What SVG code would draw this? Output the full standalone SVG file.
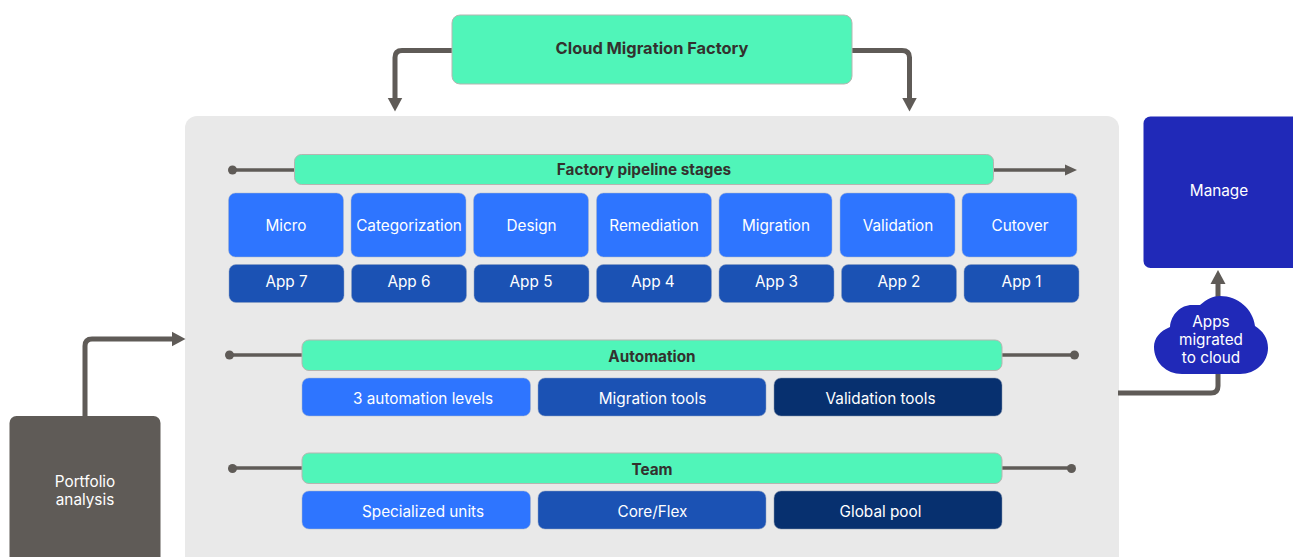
<svg xmlns="http://www.w3.org/2000/svg" width="1293" height="557" viewBox="0 0 1293 557">
<style>
text{font-family:"Inter","Liberation Sans",sans-serif;font-size:15.300px;text-anchor:middle;fill:#fff}
.h{fill:#33312e;font-weight:700}
.m{fill:#50f5b9;stroke:#b5b5b0;stroke-width:1}
.a{fill:#2e75ff;stroke:#a8b4c8;stroke-width:.5}
.b{fill:#1b52b4;stroke:#8fa0c0;stroke-width:.5}
.c{fill:#07306f;stroke:#8090a8;stroke-width:.5}
.l{fill:none;stroke:#5f5b57;stroke-width:5}
.t{fill:none;stroke:#5f5b57;stroke-width:3.500}
.d{fill:#5f5b57}
</style>
<defs>
<marker id="arrow" markerUnits="userSpaceOnUse" markerWidth="16" markerHeight="16" refX="2" refY="8" orient="auto"><path d="M0 0.500L14 8L0 15.500Z" fill="#5f5b57"/></marker>
</defs>
<rect id="canvas" x="185" y="116" width="934" height="460" rx="12" fill="#e9e9e9"/>
<g id="connectors">
<path class="l" d="M452 50.500H402Q395 50.500 395 57.500V99.500" marker-end="url(#arrow)"/>
<path class="l" d="M852 50.500H902Q909.500 50.500 909.500 57.500V99.500" marker-end="url(#arrow)"/>
<path class="l" d="M85 417V346Q85 339 92 339H173.500" marker-end="url(#arrow)"/>
<path class="l" d="M1118 393H1211Q1218 393 1218 386V372"/>
<path class="l" d="M1218 300V282" marker-end="url(#arrow)"/>
<path class="t" d="M233 170H295"/><circle class="d" cx="232.500" cy="170" r="4.500"/>
<path class="t" d="M994 170H1070"/><path class="d" d="M1065 164.500L1077 170L1065 175.500Z"/>
<path class="t" d="M230 355H302"/><circle class="d" cx="229.500" cy="355" r="4.500"/>
<path class="t" d="M1002 355H1074"/><circle class="d" cx="1074.500" cy="355" r="4.500"/>
<path class="t" d="M233 468H302"/><circle class="d" cx="232.500" cy="468.500" r="4.500"/>
<path class="t" d="M1002 468H1071"/><circle class="d" cx="1071.500" cy="468.500" r="4.500"/>
</g>
<g id="factory"><rect class="m" x="452" y="15" width="400" height="69" rx="8"/><text class="h" x="652" y="54" style="font-size:16.400px">Cloud Migration Factory</text></g>
<g id="pipeline"><rect class="m" x="294.500" y="154.500" width="699" height="30" rx="7"/><text class="h" x="644" y="175">Factory pipeline stages</text></g>
<g id="s1"><rect class="a" x="228.500" y="193" width="115" height="64" rx="7"/><text x="286" y="231">Micro</text></g>
<g id="s2"><rect class="a" x="351" y="193" width="115" height="64" rx="7"/><text x="409" y="231">Categorization</text></g>
<g id="s3"><rect class="a" x="473.500" y="193" width="115" height="64" rx="7"/><text x="531.500" y="231">Design</text></g>
<g id="s4"><rect class="a" x="596.500" y="193" width="115" height="64" rx="7"/><text x="654" y="231">Remediation</text></g>
<g id="s5"><rect class="a" x="719" y="193" width="113" height="64" rx="7"/><text x="776" y="231">Migration</text></g>
<g id="s6"><rect class="a" x="840" y="193" width="115" height="64" rx="7"/><text x="898" y="231">Validation</text></g>
<g id="s7"><rect class="a" x="962" y="193" width="115" height="64" rx="7"/><text x="1020" y="231">Cutover</text></g>
<g id="a7"><rect class="b" x="229" y="264.500" width="115" height="38" rx="7"/><text x="286.500" y="287">App 7</text></g>
<g id="a6"><rect class="b" x="351.500" y="264.500" width="115" height="38" rx="7"/><text x="409" y="287">App 6</text></g>
<g id="a5"><rect class="b" x="474" y="264.500" width="115" height="38" rx="7"/><text x="531" y="287">App 5</text></g>
<g id="a4"><rect class="b" x="596.500" y="264.500" width="115" height="38" rx="7"/><text x="653" y="287">App 4</text></g>
<g id="a3"><rect class="b" x="719" y="264.500" width="115" height="38" rx="7"/><text x="776.500" y="287">App 3</text></g>
<g id="a2"><rect class="b" x="841.500" y="264.500" width="115" height="38" rx="7"/><text x="899" y="287">App 2</text></g>
<g id="a1"><rect class="b" x="964" y="264.500" width="115" height="38" rx="7"/><text x="1021.500" y="287">App 1</text></g>
<g id="automation"><rect class="m" x="302" y="340" width="700" height="30.500" rx="7"/><text class="h" x="652" y="362">Automation</text></g>
<g id="levels"><rect class="a" x="302" y="378" width="228.500" height="38" rx="7"/><text x="423" y="404">3 automation levels</text></g>
<g id="migtools"><rect class="b" x="538" y="378" width="228" height="38" rx="7"/><text x="652.500" y="404">Migration tools</text></g>
<g id="valtools"><rect class="c" x="774" y="378" width="228" height="38" rx="7"/><text x="880.500" y="404">Validation tools</text></g>
<g id="team"><rect class="m" x="302" y="453" width="700" height="30.500" rx="7"/><text class="h" x="652" y="475">Team</text></g>
<g id="units"><rect class="a" x="302" y="491" width="228.500" height="38" rx="7"/><text x="423" y="517">Specialized units</text></g>
<g id="core"><rect class="b" x="538" y="491" width="228" height="38" rx="7"/><text x="652.500" y="517">Core/Flex</text></g>
<g id="pool"><rect class="c" x="774" y="491" width="228" height="38" rx="7"/><text x="880.500" y="517">Global pool</text></g>
<g id="portfolio"><rect x="9.500" y="416" width="151" height="170" rx="7" fill="#5f5b57"/><text x="85" y="487">Portfolio</text><text x="85" y="505">analysis</text></g>
<g id="manage"><rect x="1143.500" y="116.500" width="156" height="151.500" rx="7" fill="#2029b8"/><text x="1219" y="196">Manage</text></g>
<g id="cloud"><path d="M1182 374C1166 374 1154 362 1154 347C1154 338 1160 331 1170 327C1171 314 1181 305 1192 305C1195 305 1197 305 1200 305C1207 299 1213 296 1220 296C1238 296 1253 309 1255 326C1263 331 1268 338 1268 348C1268 362 1256 374 1240 374Z" fill="#2029b8"/><text x="1211" y="327">Apps</text><text x="1211" y="345">migrated</text><text x="1211" y="363">to cloud</text></g>
</svg>
